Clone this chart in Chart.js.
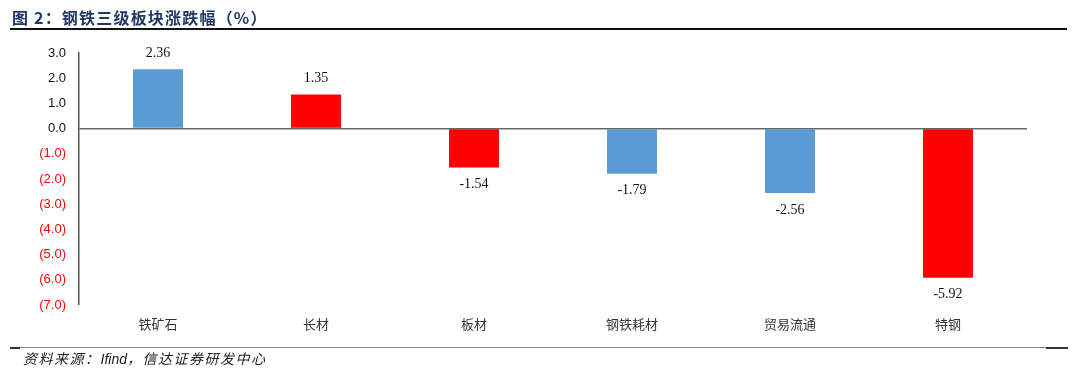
<!DOCTYPE html>
<html>
<head>
<meta charset="utf-8">
<script src="https://cdn.jsdelivr.net/npm/chart.js@4.4.0/dist/chart.umd.min.js"></script>
<style>
  html, body { margin: 0; padding: 0; background: #fff; }
  #wrap { position: relative; width: 1080px; height: 372px; overflow: hidden; }
  #title { position: absolute; left: 12px; top: 6px; font-family: "Noto Sans CJK SC", sans-serif; font-weight: bold; font-size: 16px; letter-spacing: 1.2px; color: #1f3864; line-height: 22px; white-space: nowrap; }
  #tline { position: absolute; left: 10px; top: 28px; width: 1057px; height: 2px; background: #111; }
  #fline { position: absolute; left: 10px; top: 347px; width: 1058px; height: 1px; background: #888; }
  #fl1 { position: absolute; left: 10px; top: 347px; width: 10px; height: 2px; background: #333; }
  #fl2 { position: absolute; left: 1046px; top: 347px; width: 22px; height: 2px; background: #333; }
  #foot { position: absolute; left: 23px; top: 349px; font-family: "Noto Sans CJK SC", sans-serif; font-style: italic; font-size: 14px; letter-spacing: 1.5px; color: #222; line-height: 19px; white-space: nowrap; }
  #foot .en { font-family: "Liberation Sans", Arial, sans-serif; letter-spacing: 0; }
  canvas { position: absolute; left: 0; top: 0; }
</style>
</head>
<body>
<div id="wrap">
  <canvas id="c" width="1080" height="372"></canvas>
  <div id="title">图 2：钢铁三级板块涨跌幅（%）</div>
  <div id="tline"></div>
  <div id="fline"></div>
  <div id="fl1"></div>
  <div id="fl2"></div>
  <div id="foot">资料来源：<span class="en">Ifind</span>，信达证券研发中心</div>
</div>
<script>
const categories = ["铁矿石", "长材", "板材", "钢铁耗材", "贸易流通", "特钢"];
const values = [2.36, 1.35, -1.54, -1.79, -2.56, -5.92];
const barColors = ["#5b9bd5", "#ff0000", "#ff0000", "#5b9bd5", "#5b9bd5", "#ff0000"];
const yTicks = [3, 2, 1, 0, -1, -2, -3, -4, -5, -6, -7];

const labelPlugin = {
  id: 'valueLabels',
  afterDatasetsDraw(chart) {
    const ctx = chart.ctx;
    const meta = chart.getDatasetMeta(0);
    ctx.save();
    ctx.font = '14px "Liberation Serif", "Times New Roman", serif';
    ctx.fillStyle = '#111';
    ctx.textAlign = 'center';
    ctx.textBaseline = 'middle';
    meta.data.forEach((bar, i) => {
      const v = values[i];
      const y = v >= 0 ? bar.y - 16 : bar.y + 17;
      ctx.fillText(v.toFixed(2), bar.x, y);
    });
    ctx.restore();
  }
};

new Chart(document.getElementById('c'), {
  type: 'bar',
  data: {
    labels: categories,
    datasets: [{
      data: values,
      backgroundColor: barColors,
      borderWidth: 0,
      barPercentage: 0.632,
      categoryPercentage: 0.5
    }]
  },
  options: {
    responsive: false,
    animation: false,
    layout: { padding: { top: 53, left: 0, right: 53, bottom: 0 } },
    plugins: { legend: { display: false }, tooltip: { enabled: false } },
    scales: {
      x: {
        grid: { display: false, drawTicks: false },
        border: { display: false },
        ticks: {
          padding: 11,
          color: '#333',
          font: { family: '"Noto Sans CJK SC", sans-serif', size: 13 }
        },
        afterFit(scale) { scale.height = 67; }
      },
      y: {
        min: -7, max: 3,
        afterBuildTicks(scale) { scale.ticks = yTicks.map(v => ({ value: v })); },
        grid: {
          drawTicks: false,
          color: (c) => (c.tick && c.tick.value === 0) ? '#666' : 'rgba(0,0,0,0)',
          lineWidth: (c) => (c.tick && c.tick.value === 0) ? 1.5 : 0
        },
        border: { display: true, color: '#555', width: 1.5 },
        ticks: {
          padding: 13,
          color: (c) => c.tick.value < 0 ? '#ff0000' : '#111',
          font: { family: '"Liberation Sans", Arial, sans-serif', size: 13 },
          callback: (v) => v < 0 ? '(' + Math.abs(v).toFixed(1) + ')' : v.toFixed(1)
        },
        afterFit(scale) { scale.width = 79; }
      }
    }
  },
  plugins: [labelPlugin]
});
</script>
</body>
</html>
